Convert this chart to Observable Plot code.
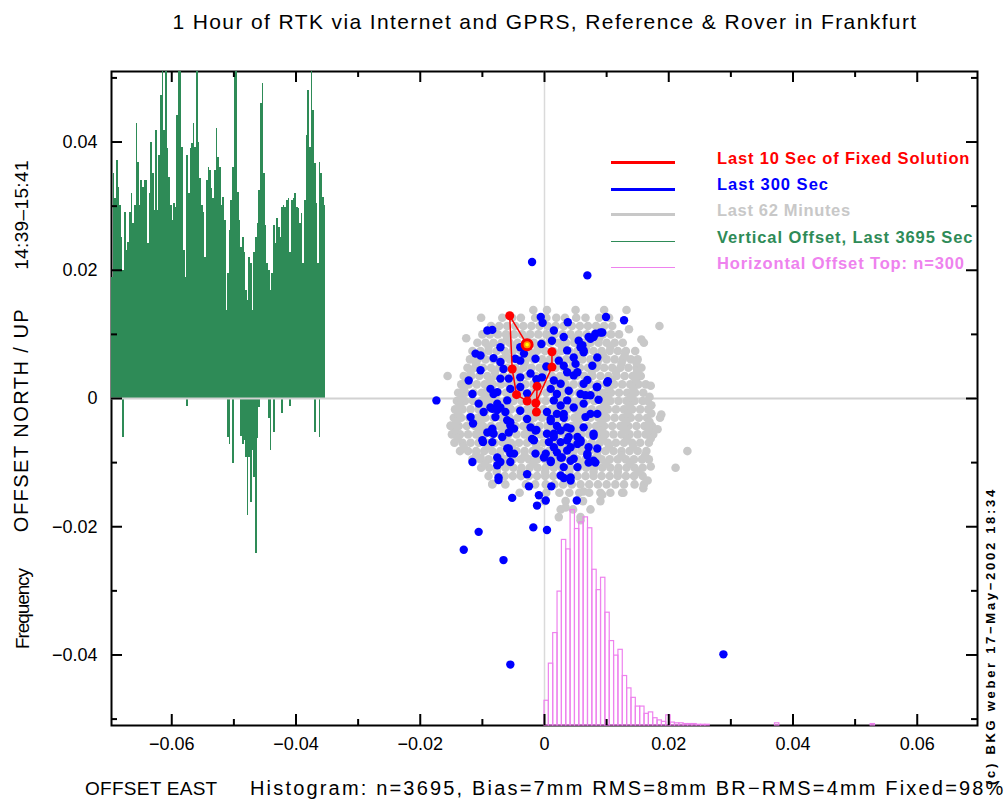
<!DOCTYPE html>
<html><head><meta charset="utf-8">
<script src="https://cdn.jsdelivr.net/npm/d3@7"></script>
<script src="https://cdn.jsdelivr.net/npm/@observablehq/plot@0.6"></script>
<style>
body{margin:0;background:#fff;}
#wrap{position:relative;width:1006px;height:801px;overflow:hidden;font-family:"Liberation Sans",Arial,sans-serif;color:#000;}
.lbl{position:absolute;white-space:nowrap;line-height:1;}
.rot{transform:translate(-50%,-50%) rotate(-90deg);}
.ctr{transform:translate(-50%,-50%);}
.lft{transform:translate(0,-50%);}
.lg{position:absolute;}
</style></head><body><div id="wrap"></div>
<script>
// ---------- DATA (all offsets in millimetres) ----------
const xTicksMajor = [-0.06, -0.04, -0.02, 0, 0.02, 0.04, 0.06];
const xTicksMinor = [-0.05, -0.03, -0.01, 0.01, 0.03, 0.05];
const yTicksMajor = [-0.04, -0.02, 0, 0.02, 0.04];
const yTicksMinor = [-0.05, -0.03, -0.01, 0.01, 0.03, 0.05];

// Last 62 minutes (gray cloud), read row by row: north offset -> list of east offsets
const grayRowNorth = [13.8, 12.6, 11.3, 10.0, 8.7, 7.4, 6.1, 4.8, 3.5, 2.2, 0.9, -0.4, -1.7, -3.0, -4.3, -5.6, -6.9, -8.2, -9.5, -10.8, -12.1, -13.4, -14.7, -16.0, -17.3, -18.5];
const grayRowEast = [
  [-1.8, 0.4, 5.0, 9.6, 13.2],
  [-10.2, -6.8, -5.2, -3.8, -1.5, 0.3, 1.9, 3.3, 5.1, 6.6, 8.8, 10.4],
  [-8.6, -7.3, -6.0, -4.7, -3.4, -2.1, -0.8, 0.5, 1.8, 3.1, 4.4, 5.7, 7.0, 8.3, 9.6, 10.9, 18.5],
  [-10.0, -8.8, -7.5, -6.2, -4.9, -3.6, -2.3, -1.0, 0.3, 1.6, 2.9, 4.2, 5.5, 6.8, 8.1, 9.4, 10.7, 12.0],
  [-10.8, -9.5, -8.2, -6.9, -5.6, -4.3, -3.0, -1.7, -0.4, 0.9, 2.2, 3.5, 4.8, 6.1, 7.4, 8.7, 10.0, 11.3, 12.6, 16.0],
  [-11.6, -10.3, -9.0, -7.7, -6.4, -5.1, -3.8, -2.5, -1.2, 0.1, 1.4, 2.7, 4.0, 5.3, 6.6, 7.9, 9.2, 10.5, 11.8, 13.1, 14.6],
  [-12.0, -10.8, -9.5, -8.2, -6.9, -5.6, -4.3, -3.0, -1.7, -0.4, 0.9, 2.2, 3.5, 4.8, 6.1, 7.4, 8.7, 10.0, 11.3, 12.6, 13.9, 15.0],
  [-12.4, -11.2, -9.9, -8.6, -7.3, -6.0, -4.7, -3.4, -2.1, -0.8, 0.5, 1.8, 3.1, 4.4, 5.7, 7.0, 8.3, 9.6, 10.9, 12.2, 13.5, 14.8, 15.6],
  [-15.6, -13.0, -11.8, -10.5, -9.2, -7.9, -6.6, -5.3, -4.0, -2.7, -1.4, -0.1, 1.2, 2.5, 3.8, 5.1, 6.4, 7.7, 9.0, 10.3, 11.6, 12.9, 14.2, 15.5],
  [-13.4, -12.2, -10.9, -9.6, -8.3, -7.0, -5.7, -4.4, -3.1, -1.8, -0.5, 0.8, 2.1, 3.4, 4.7, 6.0, 7.3, 8.6, 9.9, 11.2, 12.5, 13.8, 15.1, 16.3],
  [-13.9, -12.7, -11.4, -10.1, -8.8, -7.5, -6.2, -4.9, -3.6, -2.3, -1.0, 0.3, 1.6, 2.9, 4.2, 5.5, 6.8, 8.1, 9.4, 10.7, 12.0, 13.3, 14.6, 15.9],
  [-14.1, -12.8, -11.5, -10.2, -8.9, -7.6, -6.3, -5.0, -3.7, -2.4, -1.1, 0.2, 1.5, 2.8, 4.1, 5.4, 6.7, 8.0, 9.3, 10.6, 11.9, 13.2, 14.5, 15.8, 16.6],
  [-14.4, -13.2, -11.9, -10.6, -9.3, -8.0, -6.7, -5.4, -4.1, -2.8, -1.5, -0.2, 1.1, 2.4, 3.7, 5.0, 6.3, 7.6, 8.9, 10.2, 11.5, 12.8, 14.1, 15.4, 16.7],
  [-14.6, -13.4, -12.1, -10.8, -9.5, -8.2, -6.9, -5.6, -4.3, -3.0, -1.7, -0.4, 0.9, 2.2, 3.5, 4.8, 6.1, 7.4, 8.7, 10.0, 11.3, 12.6, 13.9, 15.2, 16.5, 18.6],
  [-15.1, -13.8, -12.5, -11.2, -9.9, -8.6, -7.3, -6.0, -4.7, -3.4, -2.1, -0.8, 0.5, 1.8, 3.1, 4.4, 5.7, 7.0, 8.3, 9.6, 10.9, 12.2, 13.5, 14.8, 16.1, 17.3],
  [-14.9, -13.6, -12.3, -11.0, -9.7, -8.4, -7.1, -5.8, -4.5, -3.2, -1.9, -0.6, 0.7, 2.0, 3.3, 4.6, 5.9, 7.2, 8.5, 9.8, 11.1, 12.4, 13.7, 15.0, 16.3, 17.5],
  [-14.5, -13.2, -11.9, -10.6, -9.3, -8.0, -6.7, -5.4, -4.1, -2.8, -1.5, -0.2, 1.1, 2.4, 3.7, 5.0, 6.3, 7.6, 8.9, 10.2, 11.5, 12.8, 14.1, 15.4, 16.8],
  [-13.6, -12.3, -11.0, -9.7, -8.4, -7.1, -5.8, -4.5, -3.2, -1.9, -0.6, 0.7, 2.0, 3.3, 4.6, 5.9, 7.2, 8.5, 9.8, 11.1, 12.4, 13.7, 15.0, 16.4, 23.0],
  [-11.6, -10.3, -9.0, -7.7, -6.4, -5.1, -3.8, -2.5, -1.2, 0.1, 1.4, 2.7, 4.0, 5.3, 6.6, 7.9, 9.2, 10.5, 11.8, 13.1, 14.4, 15.7, 16.8],
  [-10.2, -8.9, -7.6, -6.3, -5.0, -3.7, -2.4, -1.1, 0.2, 1.5, 2.8, 4.1, 5.4, 6.7, 8.0, 9.3, 10.6, 11.9, 13.2, 14.5, 15.8, 21.1],
  [-9.0, -6.4, -5.1, -3.8, -2.5, -1.2, 0.1, 1.4, 2.7, 4.0, 5.3, 6.6, 7.9, 9.2, 10.5, 11.8, 13.1, 14.4, 15.8],
  [-8.4, -6.3, -3.0, -1.5, 0.2, 1.6, 3.0, 4.4, 5.8, 7.2, 8.6, 10.0, 11.4, 12.8, 14.5, 16.0],
  [-4.0, 0.3, 2.4, 4.0, 5.6, 7.2, 9.0, 10.6, 12.5],
  [0.0, 3.4, 6.2, 9.0],
  [2.6, 4.6, 7.4],
  [2.3, 5.8]
];
// extra gray points between the rows (offset half a step), read from the denser core
const grayMidNorth = [9.35, 8.05, 6.75, 5.45, 4.15, 2.85, 1.55, 0.25, -1.05, -2.35, -3.65, -4.95, -6.25, -7.55, -8.85, -10.15, -11.45];
const grayMidEast = [
  [-6.0, -2.9, 0.9, 4.8, 8.8],
  [-9.0, -5.0, -1.1, 2.8, 6.7, 10.6],
  [-10.1, -6.2, -2.3, 1.6, 5.5, 9.4, 12.9],
  [-11.0, -7.1, -3.2, 0.7, 4.6, 8.5, 12.4],
  [-11.9, -8.0, -4.1, -0.2, 3.7, 7.6, 11.5, 14.9],
  [-12.6, -8.7, -4.8, -0.9, 3.0, 6.9, 10.8, 14.7],
  [-13.0, -9.1, -5.2, -1.3, 2.6, 6.5, 10.4, 14.3],
  [-13.3, -9.4, -5.5, -1.6, 2.3, 6.2, 10.1, 14.0, 16.9],
  [-13.6, -9.7, -5.8, -1.9, 2.0, 5.9, 9.8, 13.7, 17.2],
  [-13.9, -10.0, -6.1, -2.2, 1.7, 5.6, 9.5, 13.4, 17.2],
  [-14.2, -10.3, -6.4, -2.5, 1.4, 5.3, 9.2, 13.1, 16.9],
  [-14.4, -10.5, -6.6, -2.7, 1.2, 5.1, 9.0, 12.9, 16.8],
  [-14.0, -10.1, -6.2, -2.3, 1.6, 5.5, 9.4, 13.3, 17.1],
  [-13.0, -9.1, -5.2, -1.3, 2.6, 6.5, 10.4, 14.3],
  [-11.0, -7.1, -3.2, 0.7, 4.6, 8.5, 12.4, 16.2],
  [-9.6, -5.7, -1.8, 2.1, 6.0, 9.9, 13.8],
  [-7.7, -3.8, 0.1, 4.0, 7.9, 11.8, 15.1]
];
// scattered gray points at the rim of the cloud [east, north]
const grayEdge = [[14.8,5.6],[17.1,2.0],[18.8,-2.5],[18.2,-4.8],[17.1,-10.6],[16.6,-12.8],[15.9,-14.0],[12.7,-14.7],[9.3,-15.0],[6.3,-14.5],[-15.1,-4.2],[-10.3,-9.2],[-8.4,-13.3],[3.4,-17.0],[5.8,-19.0],[15.6,9.2],[13.6,10.8],[-12.6,9.4]];

// Last 300 seconds (blue) [east, north]
const bluePts = [
  [-2.0,21.3],[6.9,19.2],[-0.6,12.7],[-0.3,11.8],[3.75,11.9],[9.9,12.7],[12.8,12.2],[-9.2,10.6],[-8.4,10.7],[1.5,10.6],
  [3.1,9.6],[7.9,9.6],[9.0,10.3],[7.4,9.3],[8.2,10.1],[5.5,9.0],[6.1,8.3],[-7.1,8.0],[-3.9,8.0],[-3.3,7.0],
  [-11.1,7.0],[-10.3,6.7],[-8.2,6.3],[3.65,7.5],[4.7,6.4],[6.3,7.5],[6.3,7.2],[8.5,6.4],[-4.7,6.2],[-3.9,5.9],
  [-1.45,6.2],[-7.1,5.7],[-6.6,4.6],[2.3,5.9],[3.1,5.1],[5.0,5.4],[5.3,4.1],[7.7,5.1],[-10.3,4.4],[-2.25,3.9],
  [3.65,4.1],[4.7,3.6],[-12.2,2.8],[-7.1,3.1],[-5.75,3.1],[-3.9,3.3],[-0.4,3.3],[1.5,2.8],[2.6,2.3],[6.3,2.3],
  [6.9,2.9],[8.5,1.8],[10.1,2.5],[-8.7,1.5],[-7.6,1.0],[-5.5,1.5],[-3.9,1.8],[1.0,1.5],[2.0,0.7],[3.9,1.2],
  [5.8,0.7],[7.4,0.5],[6.6,0.5],[8.7,-0.2],[-17.4,-0.3],[-11.6,0.7],[-10.6,-0.8],[-8.2,0.7],[-7.6,-0.8],[-6.0,-0.3],
  [1.5,-0.3],[2.6,-1.1],[3.65,-0.3],[4.7,-1.4],[6.3,-0.8],[7.4,-2.4],[8.5,-2.4],[6.6,-2.9],[-9.8,-2.1],[-8.4,-1.6],
  [-7.1,-1.4],[-6.3,-2.1],[-3.9,-1.9],[-2.8,-3.2],[0.4,-2.1],[1.0,-3.2],[2.0,-2.4],[3.1,-2.4],[-11.9,-2.9],[-7.9,-2.9],
  [-5.5,-3.7],[-4.9,-4.7],[-11.5,-3.9],[-8.4,-5.0],[-9.2,-5.3],[-6.8,-6.0],[-2.25,-4.5],[-1.45,-5.0],[1.5,-5.5],[2.6,-5.0],
  [3.65,-4.5],[3.9,-6.0],[6.3,-4.5],[7.9,-5.5],[7.9,-5.8],[-10.0,-6.5],[-8.4,-6.8],[-6.0,-7.8],[-5.5,-8.6],[-1.7,-6.5],
  [0.7,-6.8],[1.5,-7.6],[3.65,-6.5],[4.2,-7.6],[5.8,-6.5],[6.9,-8.6],[8.5,-7.8],[7.1,-7.6],[-11.6,-9.9],[-7.6,-9.2],
  [-7.1,-9.9],[-5.5,-9.9],[-2.8,-11.8],[-1.45,-8.6],[-0.1,-9.2],[1.0,-9.7],[2.6,-9.2],[3.1,-10.7],[4.7,-9.4],[5.3,-10.7],
  [7.9,-9.7],[6.9,-8.9],[8.2,-10.0],[7.1,-10.0],[-7.4,-12.3],[2.6,-12.0],[4.2,-12.3],[-7.6,-10.4],[-7.4,-12.7],[-2.5,-13.7],
  [-5.2,-15.5],[-0.9,-15.1],[0.2,-15.9],[-1.2,-16.7],[1.1,-13.7],[3.1,-12.4],[4.2,-12.8],[5.2,-15.9],[-1.8,-20.1],[0.4,-20.5],
  [-10.6,-20.8],[-13.0,-23.6],[-6.6,-25.2],[-5.5,-41.5],[28.8,-39.9],[9.3,10.3],[7.1,9.6],[5.8,8.0],[10.2,2.7],[8.4,1.8],
  [5.8,-6.8],[-8.7,-1.4],[-7.6,-1.8],[-8.4,-4.7],[-8.2,-5.5],[-9.9,-6.8],[-6.0,-3.4],[-5.5,-4.2],[-5.75,-5.3],[-5.75,-7.8],
  [-4.9,-8.6],[-2.0,-6.3],[-1.3,-4.9],[0.2,-8.6],[1.0,-9.9],[2.0,-8.4],[2.8,-9.2],[4.2,-9.7],[0.4,-5.5],[1.5,-6.0],
  [2.6,-6.8],[3.65,-8.1],[1.0,-3.5],[2.0,-4.3],[3.1,-3.0],[4.2,-4.7],[5.3,-6.0],[5.3,-7.1],[-2.8,0.8],[-1.3,3.0],
  [0.3,5.0],[-0.5,8.5],[1.2,9.0]
];

// Last 10 seconds of fixed solution (red), in time order; the last one is the current epoch
const redEast  = [1.2, 1.2, -1.4, -1.3, -1.2, -2.8, -4.5, -5.2, -5.6, -2.8];
const redNorth = [7.3, 4.9, -0.7, -2.1, 1.9, -0.4, 0.6, 4.6, 12.9, 8.4];

// Vertical offset, last 3695 s (green): one value per time slot, 14:39 -> 15:41
const vertUpMax = [
  18.9,35.1,31.2,37.1,32.9,30.1,25.1,20.0,29.0,23.1,
  24.3,29.0,32.0,27.3,30.1,42.9,36.8,30.1,34.0,32.9,
  34.0,34.0,24.2,32.0,39.9,35.1,29.3,41.8,29.3,37.9,
  47.3,55,41.8,55,39.0,34.5,30.1,27.8,30.4,29.8,
  44.1,55,55,39.1,23.1,18.9,37.9,32.0,39.0,39.8,
  42.9,39.1,55,39.9,34.3,30.1,29.0,22.0,34.0,36.0,
  35.6,32.8,31.2,35.6,42.1,37.6,36.0,30.1,31.4,27.8,
  13.7,19.5,26.2,30.9,36.0,55,55,32.1,27.8,23.6,
  25.1,22.8,16.8,15.3,22.0,21.0,13.7,22.8,25.1,27.3,
  32.4,46.0,49.1,35.1,27.0,21.0,20.0,16.8,19.5,27.0,
  24.2,28.1,26.7,25.1,29.8,30.1,29.8,30.9,31.2,22.8,
  30.9,31.2,32.0,29.8,29.6,27.3,28.9,21.0,30.9,41.0,
  48.0,39.1,55,44.9,36.6,30.4,21.0,36.8,35.1,31.4,
  30.1
];
const vertDownSlot = [7, 46, 71, 72, 74, 79, 80, 81, 82, 83, 84, 85, 86, 87, 88, 89, 90, 96, 97, 99, 104, 109, 124, 127];
const vertDownMin  = [-6.1, -1.2, -6.1, -7.2, -10.2, -6.0, -7.2, -6.5, -9.2, -18.2, -9.2, -16.2, -8.1, -12.3, -24.2, -6.2, -1.4, -3.1, -8.1, -5.3, -2.3, -1.2, -5.3, -6.1];

// Horizontal offset histogram (east component), 0.7 mm bins starting at 0
const histBinMm = 0.7;
const histCounts = [34,85,127,184,255,242,296,270,279,286,271,214,186,203,155,116,96,104,68,51,38,26,26,16,18,10,7,5,14,4,3,3,2,2,2,1,1,1];
const histExtraBins = [53, 75];
const histExtraCounts = [3, 2];

// ---------- BUILD ----------
const mm = v => v / 1000;
const gray = grayRowNorth.flatMap((n, i) => grayRowEast[i].map(e => ({x: mm(e), y: mm(n)})))
  .concat(grayMidNorth.flatMap((n, i) => grayMidEast[i].map(e => ({x: mm(e), y: mm(n)}))))
  .concat(grayEdge.map(([e, n]) => ({x: mm(e), y: mm(n)})));
const blue = bluePts.map(([e, n]) => ({x: mm(e), y: mm(n)}));
const red = redEast.map((e, i) => ({x: mm(e), y: mm(redNorth[i])}));
const last = red[red.length - 1];

const X0 = -0.0697, X1 = 0.0697, Y0 = -0.051, Y1 = 0.051;
const stripX0 = X0, stripX1 = -0.0352;
const slotW = (stripX1 - stripX0) / vertUpMax.length;
const vUp = vertUpMax.map((v, i) => ({x1: stripX0 + i * slotW, x2: stripX0 + (i + 1) * slotW, y: mm(v)}));
const vDown = vertDownSlot.map((s, i) => ({x1: stripX0 + s * slotW, x2: stripX0 + (s + 1) * slotW, y: mm(vertDownMin[i])}));

const freqPerCount = 0.0001135; // frequency axis scale (y units per count)
const hist = histCounts.map((c, i) => ({bin: i, c}))
  .concat(histExtraBins.map((b, i) => ({bin: b, c: histExtraCounts[i]})))
  .map(d => ({x1: mm(d.bin * histBinMm), x2: mm((d.bin + 1) * histBinMm), y2: Y0 + d.c * freqPerCount}));

const fmt = d => d === 0 ? "0" : (d < 0 ? "\u2212" : "") + Math.abs(d).toFixed(2);
const frameH = 801 - 71 - 76, frameW = 1006 - 111 - 29;
const maj = 11, mnr = 6;

const chart = Plot.plot({
  width: 1006, height: 801,
  marginLeft: 111, marginRight: 29, marginTop: 71, marginBottom: 76,
  x: {domain: [X0, X1]},
  y: {domain: [Y0, Y1]},
  style: {fontFamily: "'Liberation Sans', Arial, sans-serif", fontSize: "18px", background: "white", color: "black", overflow: "visible"},
  marks: [
    Plot.frame({stroke: "black", strokeWidth: 2}),
    Plot.rect(vUp, {x1: "x1", x2: "x2", y1: 0, y2: "y", fill: "#2e8b57", clip: true, shapeRendering: "crispEdges"}),
    Plot.rect(vDown, {x1: "x1", x2: "x2", y1: 0, y2: "y", fill: "#2e8b57", clip: true, shapeRendering: "crispEdges"}),
    Plot.ruleY([0], {stroke: "#d2d2d2", strokeWidth: 2}),
    Plot.ruleX([0], {stroke: "#dadada", strokeWidth: 1.5}),
    Plot.dot(gray, {x: "x", y: "y", r: 4.3, fill: "#c8c8c8", stroke: "none"}),
    Plot.rect(hist, {x1: "x1", x2: "x2", y1: Y0, y2: "y2", fill: "none", stroke: "#ee82ee", strokeWidth: 1.2}),
    Plot.dot(blue, {x: "x", y: "y", r: 4.2, fill: "#0000ff", stroke: "none"}),
    Plot.line(red, {x: "x", y: "y", stroke: "#ff0000", strokeWidth: 1.5, curve: "linear"}),
    Plot.dot(red, {x: "x", y: "y", r: 4.5, fill: "#ff0000", stroke: "none"}),
    Plot.dot([last], {x: "x", y: "y", r: 6.5, fill: "#ff0000", stroke: "none"}),
    Plot.dot([last], {x: "x", y: "y", r: 3.5, fill: "#ff9900", stroke: "none"}),
    Plot.dot([last], {x: "x", y: "y", r: 1.8, fill: "#ffff00", stroke: "none"}),
    Plot.tickX(xTicksMajor, {x: d => d, stroke: "black", strokeWidth: 2, insetTop: frameH - maj}),
    Plot.tickX(xTicksMinor, {x: d => d, stroke: "black", strokeWidth: 2, insetTop: frameH - mnr}),
    Plot.tickX(xTicksMajor, {x: d => d, stroke: "black", strokeWidth: 2, insetBottom: frameH - maj}),
    Plot.tickX(xTicksMinor, {x: d => d, stroke: "black", strokeWidth: 2, insetBottom: frameH - mnr}),
    Plot.tickY(yTicksMajor, {y: d => d, stroke: "black", strokeWidth: 2, insetRight: frameW - maj}),
    Plot.tickY(yTicksMinor, {y: d => d, stroke: "black", strokeWidth: 2, insetRight: frameW - mnr}),
    Plot.tickY(yTicksMajor, {y: d => d, stroke: "black", strokeWidth: 2, insetLeft: frameW - maj}),
    Plot.tickY(yTicksMinor, {y: d => d, stroke: "black", strokeWidth: 2, insetLeft: frameW - mnr}),
    Plot.axisX({anchor: "bottom", ticks: xTicksMajor, tickSize: 0, tickPadding: 12, tickFormat: fmt, fontSize: 18}),
    Plot.axisY({anchor: "left", ticks: yTicksMajor, tickSize: 0, tickPadding: 14, tickFormat: fmt, fontSize: 18})
  ]
});

const wrap = document.getElementById("wrap");
wrap.appendChild(chart);
chart.style.position = "absolute"; chart.style.left = "0"; chart.style.top = "0";

function label(text, opts) {
  const d = document.createElement("div");
  d.className = "lbl " + (opts.cls || "ctr");
  d.textContent = text;
  d.style.left = opts.x + "px"; d.style.top = opts.y + "px";
  d.style.fontSize = opts.size + "px";
  if (opts.bold) d.style.fontWeight = "bold";
  if (opts.color) d.style.color = opts.color;
  wrap.appendChild(d);
  if (opts.w) {
    const nat = d.offsetWidth;
    d.style.letterSpacing = ((opts.w - nat) / text.length) + "px";
  }
  return d;
}

label("1 Hour of RTK via Internet and GPRS, Reference & Rover in Frankfurt", {x: 545, y: 21, size: 21, w: 745});
label("OFFSET EAST", {x: 85, y: 788, size: 19, w: 133, cls: "lft"});
label("Histogram: n=3695, Bias=7mm RMS=8mm BR\u2212RMS=4mm Fixed=98%", {x: 250, y: 788, size: 20, w: 756, cls: "lft"});
label("14:39\u201315:41", {x: 21, y: 215, size: 19, w: 110, cls: "rot"});
label("OFFSET NORTH / UP", {x: 21, y: 420, size: 20, w: 224, cls: "rot"});
label("Frequency", {x: 22, y: 609, size: 19, w: 80, cls: "rot"});
label("(c) BKG weber 17\u2212May\u22122002 18:34", {x: 990, y: 636, size: 13, w: 298, cls: "rot", bold: true});

// legend
const legendLabels = ["Last 10 Sec of Fixed Solution", "Last 300 Sec", "Last 62 Minutes", "Vertical Offset, Last 3695 Sec", "Horizontal Offset Top: n=300"];
const legendColors = ["#ff0000", "#0000ff", "#c8c8c8", "#2e8b57", "#ee82ee"];
const legendLineW = [3, 3, 3, 1, 1];
const legendTextY = [158, 184, 210, 237, 263];
const legendLineY = [162, 189, 214, 241, 267];
const legendTextW = [253, 112, 134, 256, 248];
legendLabels.forEach((t, i) => {
  const ln = document.createElement("div");
  ln.className = "lg";
  ln.style.left = "611px"; ln.style.width = "64px";
  ln.style.top = (legendLineY[i] - legendLineW[i] / 2) + "px";
  ln.style.height = legendLineW[i] + "px";
  ln.style.background = legendColors[i];
  wrap.appendChild(ln);
  label(t, {x: 717, y: legendTextY[i], size: 16.5, bold: true, color: legendColors[i], w: legendTextW[i], cls: "lft"});
});
</script></body></html>
